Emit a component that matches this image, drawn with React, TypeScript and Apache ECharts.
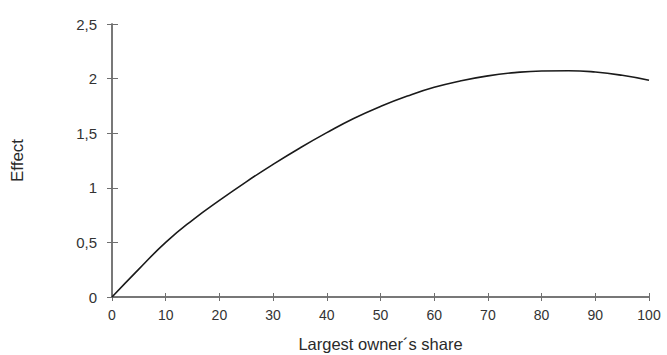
import React, { useEffect, useRef } from "react";
import * as echarts from "echarts";

const shares = [0, 5, 10, 15, 20, 25, 30, 35, 40, 45, 50, 55, 60, 65, 70, 75, 80, 85, 90, 95, 100];
const effects = [0, 0.255, 0.5, 0.705, 0.885, 1.055, 1.215, 1.365, 1.505, 1.635, 1.745, 1.84, 1.92, 1.98, 2.025, 2.055, 2.07, 2.072, 2.06, 2.03, 1.985];
const xTicks = [0, 10, 20, 30, 40, 50, 60, 70, 80, 90, 100];
const yTickLabels = ["0", "0,5", "1", "1,5", "2", "2,5"];

const axisColor = "#6f6f6f";
const font = "'Liberation Sans', Arial, sans-serif";

export default function App() {
  const ref = useRef<HTMLDivElement>(null);
  useEffect(() => {
    const chart = echarts.init(ref.current!, undefined, { renderer: "svg" });
    const baseX = {
      type: "value",
      position: "bottom",
      min: xTicks[0],
      max: xTicks[xTicks.length - 1],
      interval: 10,
      splitLine: { show: false },
      axisLine: { show: true, onZero: false, lineStyle: { color: axisColor, width: 1.5 } },
    };
    const baseY = {
      type: "value",
      position: "left",
      min: 0,
      max: 2.5,
      interval: 0.5,
      splitLine: { show: false },
      axisLine: { show: true, onZero: false, lineStyle: { color: axisColor, width: 1.5 } },
    };
    chart.setOption({
      animation: false,
      backgroundColor: "#ffffff",
      grid: { left: 112, right: 18, top: 24, bottom: 58, containLabel: false, outerBoundsMode: "none" },
      xAxis: [
        {
          ...baseX,
          name: "Largest owner\u00b4s share",
          nameLocation: "middle",
          nameGap: 38,
          nameTextStyle: { fontFamily: font, fontSize: 16.5, color: "#2a2a2a" },
          axisTick: { show: true, length: 4, lineStyle: { color: axisColor } },
          axisLabel: {
            fontFamily: font,
            fontSize: 14,
            color: "#333",
            margin: 11,
            formatter: (v: number) => String(v),
          },
        },
        {
          ...baseX,
          axisTick: { show: true, inside: true, length: 4, lineStyle: { color: axisColor } },
          axisLabel: { show: false },
        },
      ],
      yAxis: [
        {
          ...baseY,
          name: "Effect",
          nameLocation: "middle",
          nameRotate: 90,
          nameGap: 86,
          nameTextStyle: { fontFamily: font, fontSize: 17, color: "#2a2a2a" },
          axisTick: { show: true, length: 5, lineStyle: { color: axisColor } },
          axisLabel: {
            fontFamily: font,
            fontSize: 15,
            color: "#333",
            margin: 15,
            formatter: (v: number) => yTickLabels[Math.round(v / 0.5)] ?? "",
          },
        },
        {
          ...baseY,
          axisTick: { show: true, inside: true, length: 6, lineStyle: { color: axisColor } },
          axisLabel: { show: false },
        },
      ],
      series: [
        {
          type: "line",
          data: shares.map((s, i) => [s, effects[i]]),
          smooth: true,
          showSymbol: false,
          symbol: "none",
          lineStyle: { color: "#1a1a1a", width: 1.6 },
          xAxisIndex: 0,
          yAxisIndex: 0,
        },
      ],
    });
    return () => chart.dispose();
  }, []);
  return <div ref={ref} style={{ width: 667, height: 355, position: "absolute", left: 0, top: 0 }} />;
}
